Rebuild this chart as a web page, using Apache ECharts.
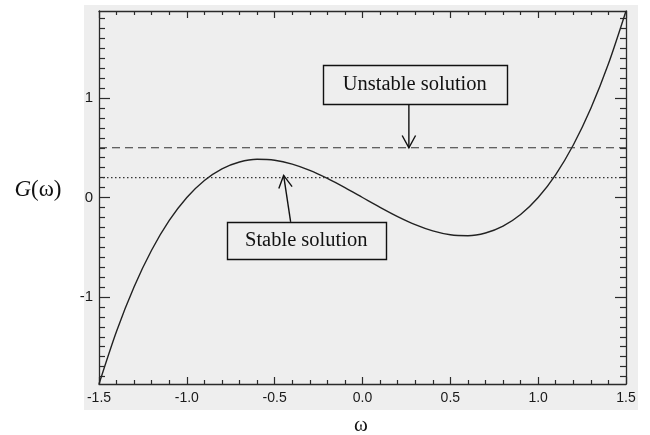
<!DOCTYPE html>
<html>
<head>
<meta charset="utf-8">
<script src="https://cdn.jsdelivr.net/npm/echarts@6/dist/echarts.min.js"></script>
<style>
  html, body { margin: 0; padding: 0; background: #fff; }
  #chart { width: 650px; height: 435px; }
</style>
</head>
<body>
<div id="chart"></div>
<script>
// curve, omega vs G(omega)
const omega = [-1.5, -1.4, -1.3, -1.2, -1.1, -1.0, -0.9, -0.8, -0.7, -0.6, -0.5, -0.4, -0.3, -0.2, -0.1,
  0.0, 0.1, 0.2, 0.3, 0.4, 0.5, 0.6, 0.7, 0.8, 0.9, 1.0, 1.1, 1.2, 1.3, 1.4, 1.5]
const gValues = [-1.875, -1.344, -0.897, -0.528, -0.231, 0.0, 0.171, 0.288, 0.357, 0.384, 0.375, 0.336, 0.273, 0.192, 0.099,
  0.0, -0.099, -0.192, -0.273, -0.336, -0.375, -0.384, -0.357, -0.288, -0.171, 0.0, 0.231, 0.528, 0.897, 1.344, 1.875]

const unstableLevel = 0.5 // dashed line
const stableLevel = 0.2 // dotted line

const yMajorTicks = [-1, 0, 1]
const yMinorTicks = []
for (let i = -18; i <= 18; i++) {
  if (i % 10 !== 0) yMinorTicks.push(i / 10)
}

// annotation boxes, in data coordinates
const notes = [
  { text: 'Unstable solution', box: [-0.227, 1.332, 0.822, 0.94], from: [0.264, 0.94], to: [0.264, 0.5] },
  { text: 'Stable solution', box: [-0.773, -0.246, 0.132, -0.618], from: [-0.409, -0.246], to: [-0.449, 0.222] }
]

const axisColor = '#2a2a2a'
const sans = '"Liberation Sans", Arial, sans-serif'
const serif = '"Liberation Serif", "Times New Roman", serif'

const chart = echarts.init(document.getElementById('chart'))

function xAxisOf (pos, showLabel) {
  return {
    type: 'value',
    position: pos,
    min: -1.5,
    max: 1.5,
    interval: 0.5,
    axisLine: { show: true, onZero: false, lineStyle: { color: axisColor, width: 1.3 } },
    axisTick: { show: true, inside: true, length: 7, lineStyle: { color: axisColor, width: 1.2 } },
    minorTick: { show: true, splitNumber: 5, length: 4, lineStyle: { color: axisColor, width: 1.2 } },
    splitLine: { show: false },
    axisLabel: {
      show: showLabel,
      color: '#1a1a1a',
      fontSize: 14,
      fontFamily: sans,
      margin: 7,
      formatter: v => v.toFixed(1)
    }
  }
}

function yAxisOf (pos, ticks, len, showLine, showLabel) {
  return {
    type: 'value',
    position: pos,
    min: -1.875,
    max: 1.875,
    axisLine: { show: showLine, onZero: false, lineStyle: { color: axisColor, width: 1.3 } },
    axisTick: { show: true, inside: true, length: len, customValues: ticks, lineStyle: { color: axisColor, width: 1.2 } },
    splitLine: { show: false },
    axisLabel: {
      show: showLabel,
      customValues: ticks,
      color: '#1a1a1a',
      fontSize: 15,
      fontFamily: sans,
      margin: 6
    }
  }
}

const curve = omega.map((w, i) => [w, gValues[i]])

chart.setOption({
  backgroundColor: '#fff',
  animation: false,
  grid: { left: 99, right: 24, top: 11, bottom: 51 },
  xAxis: [xAxisOf('bottom', true), xAxisOf('top', false)],
  yAxis: [
    yAxisOf('left', yMajorTicks, 11, true, true),
    yAxisOf('left', yMinorTicks, 6, false, false),
    yAxisOf('right', yMajorTicks, 11, true, false),
    yAxisOf('right', yMinorTicks, 6, false, false)
  ],
  series: [
    {
      type: 'line',
      data: curve,
      smooth: 0.3,
      showSymbol: false,
      lineStyle: { color: '#222', width: 1.4 }
    },
    {
      type: 'line',
      data: [[-1.5, unstableLevel], [1.5, unstableLevel]],
      showSymbol: false,
      lineStyle: { color: '#333', width: 1.2, type: [8, 5] }
    },
    {
      type: 'line',
      data: [[-1.5, stableLevel], [1.5, stableLevel]],
      showSymbol: false,
      lineStyle: { color: '#333', width: 1.2, type: [1.5, 2.5] }
    }
  ]
})

// gray panel, axis titles and the two labelled arrows
const px = p => chart.convertToPixel({ xAxisIndex: 0, yAxisIndex: 0 }, p)
const elements = [
  {
    type: 'rect',
    z: -10,
    silent: true,
    shape: { x: 84, y: 5, width: 554, height: 405 },
    style: { fill: '#eeeeee' }
  },
  {
    type: 'text',
    x: 38,
    y: 190,
    style: {
      text: '{i|G}(ω)',
      font: '23px ' + serif,
      fill: '#111',
      align: 'center',
      verticalAlign: 'middle',
      rich: { i: { fontStyle: 'italic', fontSize: 23, fontFamily: serif } }
    }
  },
  {
    type: 'text',
    x: 361,
    y: 425,
    style: { text: 'ω', font: '21px ' + serif, fill: '#111', align: 'center', verticalAlign: 'middle' }
  }
]

notes.forEach(n => {
  const a = px([n.box[0], n.box[1]])
  const b = px([n.box[2], n.box[3]])
  const f = px(n.from)
  const t = px(n.to)
  elements.push({
    type: 'rect',
    z: 5,
    shape: { x: Math.round(a[0]) + 0.5, y: Math.round(a[1]) + 0.5, width: Math.round(b[0] - a[0]), height: Math.round(b[1] - a[1]) },
    style: { fill: '#eeeeee', stroke: '#111', lineWidth: 1.4 }
  })
  elements.push({
    type: 'text',
    z: 6,
    x: (a[0] + b[0]) / 2,
    y: (a[1] + b[1]) / 2,
    style: { text: n.text, font: '20.5px ' + serif, fill: '#111', align: 'center', verticalAlign: 'middle' }
  })
  // arrow shaft and open head
  const ang = Math.atan2(t[1] - f[1], t[0] - f[0])
  const head = 14
  const spread = 0.5
  const h1 = [t[0] - head * Math.cos(ang - spread), t[1] - head * Math.sin(ang - spread)]
  const h2 = [t[0] - head * Math.cos(ang + spread), t[1] - head * Math.sin(ang + spread)]
  elements.push({
    type: 'polyline',
    z: 6,
    shape: { points: [f, t] },
    style: { stroke: '#111', lineWidth: 1.4, fill: null }
  })
  elements.push({
    type: 'polyline',
    z: 6,
    shape: { points: [h1, t, h2] },
    style: { stroke: '#111', lineWidth: 1.4, fill: null }
  })
})

chart.setOption({ graphic: { elements } })
</script>
</body>
</html>
